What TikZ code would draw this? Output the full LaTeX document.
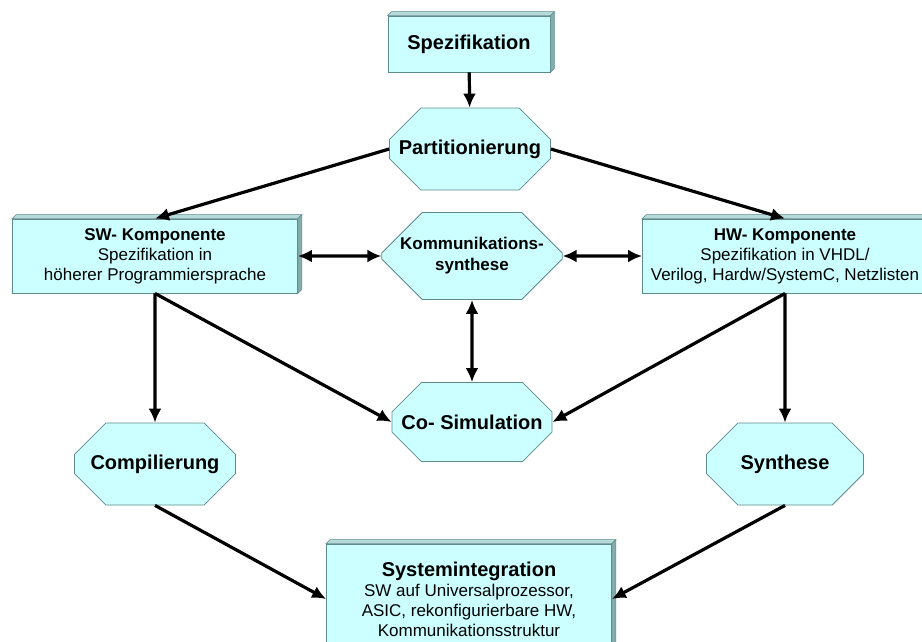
\documentclass[tikz,border=0pt]{standalone}
\usepackage{fontspec}
\setmainfont{Liberation Sans}
\usetikzlibrary{shapes.misc,arrows.meta}
\definecolor{boxfill}{HTML}{CCFFFF}
\definecolor{boxline}{HTML}{5F8A8A}
\definecolor{boxtop}{HTML}{B4DADA}
\definecolor{boxside}{HTML}{84AEAE}
\begin{document}
\begin{tikzpicture}[x=1pt, y=-1pt,
        box/.style={rectangle, draw=boxline, fill=boxfill, line width=0.8pt, align=center, inner sep=0pt, font=\fontsize{17}{20}\selectfont},
        octa/.style={chamfered rectangle, chamfered rectangle xsep=20pt, chamfered rectangle ysep=22pt, draw=boxline, fill=boxfill, line width=0.8pt, align=center, inner sep=0pt, font=\bfseries\fontsize{20}{24}\selectfont},
        arrow/.style={-{Latex[length=14pt,width=13pt]}, line width=3.2pt},
        both/.style={{Latex[length=14pt,width=13pt]}-{Latex[length=14pt,width=13pt]}, line width=3.2pt}
    ]
        \useasboundingbox (0,0) rectangle (922,641);

        % Kästen
        \node[box, minimum width=162pt, minimum height=56pt, font=\bfseries\fontsize{20}{24}\selectfont] (spez) at (469,44) {Spezifikation};
        \node[box, minimum width=285pt, minimum height=74pt] (sw) at (155,256) {\textbf{SW- Komponente}\\Spezifikation in\\höherer Programmiersprache};
        \node[box, minimum width=285pt, minimum height=74pt] (hw) at (785,256) {\textbf{HW- Komponente}\\Spezifikation in VHDL/\\Verilog, Hardw/SystemC, Netzlisten};
        \node[box, minimum width=285pt, minimum height=110pt] (sysint) at (469,599) {{\bfseries\fontsize{20}{22}\selectfont Systemintegration}\\SW auf Universalprozessor,\\ASIC, rekonfigurierbare HW,\\Kommunikationsstruktur};

        % 3D-Kanten
        \foreach \n in {spez,sw,hw,sysint} {
            \filldraw[draw=boxline, fill=boxtop, line width=0.6pt] (\n.north west) -- ([shift={(4,-4)}]\n.north west) -- ([shift={(4,-4)}]\n.north east) -- (\n.north east) -- cycle;
            \filldraw[draw=boxline, fill=boxside, line width=0.6pt] (\n.north east) -- ([shift={(4,-4)}]\n.north east) -- ([shift={(4,-4)}]\n.south east) -- (\n.south east) -- cycle;
        }

        % Achtecke
        \node[octa, minimum width=156pt, minimum height=82pt] (part) at (470,149) {Partitionierung};
        \node[octa, minimum width=160pt, minimum height=87pt, font=\bfseries\fontsize{17}{21}\selectfont] (komm) at (472,256) {Kommunikations-\\synthese};
        \node[octa, minimum width=160pt, minimum height=79pt] (cosim) at (472,422) {Co- Simulation};
        \node[octa, minimum width=161pt, minimum height=82pt] (comp) at (155,464) {Compilierung};
        \node[octa, minimum width=157pt, minimum height=82pt] (synth) at (785,464) {Synthese};

        % Verbindungen
        \draw[arrow] (spez) -- (part);
        \draw[arrow] (part.west) -- (sw.north);
        \draw[arrow] (part.east) -- (hw.north);
        \draw[both] (sw) -- (komm);
        \draw[both] (komm) -- (hw);
        \draw[both] (komm) -- (cosim);
        \draw[arrow] (sw.south) -- (comp);
        \draw[arrow] (sw.south) -- (cosim.west);
        \draw[arrow] (hw.south) -- (synth);
        \draw[arrow] (hw.south) -- (cosim.east);
        \draw[arrow] (comp.south) -- (sysint.west);
        \draw[arrow] (synth.south) -- (sysint.east);

    \end{tikzpicture}
\end{document}
